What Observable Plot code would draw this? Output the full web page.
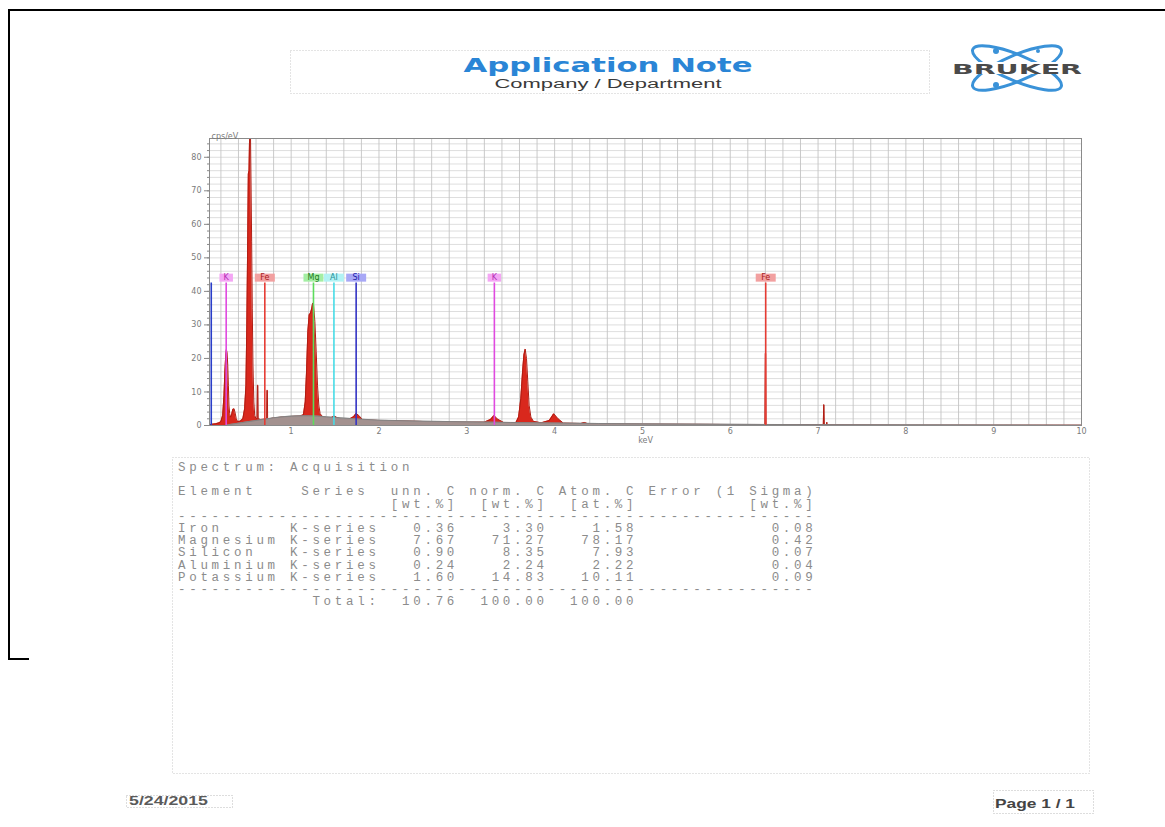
<!DOCTYPE html>
<html><head><meta charset="utf-8">
<script src="https://cdn.jsdelivr.net/npm/d3@7"></script>
<script src="https://cdn.jsdelivr.net/npm/@observablehq/plot@0.6"></script>
<style>
html,body{margin:0;padding:0;background:#fff;}
#page{position:relative;width:1165px;height:827px;overflow:hidden;background:#fff;}
#decor{position:absolute;left:0;top:0;}
#chart{position:absolute;left:160px;top:120px;}
#table{position:absolute;left:178px;top:462px;margin:0;font-family:"Liberation Mono","DejaVu Sans Mono",monospace;font-size:12.5px;letter-spacing:3.7px;line-height:12.2px;color:#8c8c8c;white-space:pre;}
</style></head>
<body><div id="page">
<svg id="decor" width="1165" height="827">
  <path d="M1165,10 H9 V659 H29" fill="none" stroke="#000" stroke-width="2"/>
  <rect x="290.5" y="50.5" width="639" height="43" fill="none" stroke="#c8c8c8" stroke-dasharray="1,2"/>
  <text x="608" y="72" text-anchor="middle" font-family="DejaVu Sans" font-weight="bold" font-size="19" fill="#2a85d6" textLength="289" lengthAdjust="spacingAndGlyphs">Application Note</text>
  <text x="608" y="88" text-anchor="middle" font-family="Liberation Sans" font-size="12.5" fill="#3a3a3a" textLength="227" lengthAdjust="spacingAndGlyphs">Company / Department</text>
  <g transform="translate(1017,68)">
    <ellipse rx="48" ry="13" transform="rotate(23)" fill="none" stroke="#3a92d8" stroke-width="3"/>
    <ellipse rx="48" ry="13" transform="rotate(-23)" fill="none" stroke="#3a92d8" stroke-width="3"/>
    <circle cx="-21" cy="-17" r="3" fill="#3a92d8"/>
    <circle cx="-21" cy="17" r="3" fill="#3a92d8"/>
    <circle cx="21" cy="-17" r="2" fill="#3a92d8"/>
    <rect x="-66" y="-6" width="132" height="12" fill="#fff"/>
    <text x="0" y="5.5" text-anchor="middle" font-family="DejaVu Sans" font-weight="bold" font-size="14" fill="#4a4a4a" textLength="130" lengthAdjust="spacingAndGlyphs">BRUKER</text>
  </g>
  <rect x="172.5" y="457.5" width="917" height="316" fill="none" stroke="#c8c8c8" stroke-dasharray="1,2"/>
  <rect x="126.5" y="795.5" width="106" height="12" fill="none" stroke="#bbb" stroke-dasharray="1,2"/>
  <text x="129" y="805" font-family="Liberation Sans" font-weight="bold" font-size="12" fill="#5a5a5a" textLength="79" lengthAdjust="spacingAndGlyphs">5/24/2015</text>
  <rect x="993.5" y="790.5" width="100" height="23" fill="none" stroke="#bbb" stroke-dasharray="1,2"/>
  <text x="995" y="808" font-family="Liberation Sans" font-weight="bold" font-size="12" fill="#444" textLength="80" lengthAdjust="spacingAndGlyphs">Page 1 / 1</text>
</svg>
<div id="chart"></div>
<pre id="table"></pre>
</div>
<script>
// ---- spectrum (keV, cps/eV) ----
const energy = [0.07,0.08,0.10,0.14,0.18,0.20,0.22,0.235,0.245,0.255,0.262,0.27,0.278,0.285,0.292,0.30,0.31,0.32,0.335,0.35,0.36,0.375,0.39,0.42,0.45,0.47,0.485,0.495,0.505,0.512,0.52,0.525,0.53,0.537,0.543,0.55,0.557,0.565,0.575,0.585,0.60,0.612,0.616,0.621,0.625,0.65,0.70,0.722,0.725,0.729,0.732,0.80,0.90,1.00,1.10,1.14,1.16,1.175,1.19,1.205,1.22,1.235,1.245,1.255,1.27,1.285,1.30,1.315,1.33,1.36,1.42,1.46,1.49,1.52,1.58,1.66,1.71,1.74,1.77,1.81,1.9,2.0,2.5,3.0,3.2,3.27,3.31,3.35,3.42,3.56,3.59,3.615,3.635,3.65,3.665,3.68,3.695,3.71,3.73,3.76,3.85,3.94,3.99,4.04,4.10,4.30,4.34,4.38,5.0,6.0,6.396,6.40,6.404,6.408,7.0,7.06,7.064,7.068,7.072,7.095,7.10,7.105,8.0,10.0];
const counts = [0,0.3,0.4,0.5,0.8,1.2,3,9,16,21,22.6,21.8,18,12,6,3.5,2.5,3,4.8,5,4,2,1.2,1.3,2,5,12,30,55,75,76,84,86.5,86.5,72,55,35,18,7,3,2.0,2.0,12,12,2.0,1.8,1.9,1.9,10.5,10.5,1.9,2.2,2.5,2.7,2.8,3.2,7,16,28,33,33.5,35,36.5,36,31,22,12,6,3.5,2.6,2.3,2.4,2.8,2.4,1.9,1.9,2.6,3.6,3.0,1.8,1.6,1.5,1.2,1.0,1.0,1.8,3.0,1.9,0.9,0.9,2.5,8,16,21,22.8,20,13,6,2.5,1.2,0.8,1.5,3.5,2,0.7,0.6,0.9,0.5,0.4,0.3,0.3,21.5,21.5,0.3,0.2,0.2,6.2,6.2,0.2,0.2,1.0,0.2,0.1,0.05];
// ---- background (bremsstrahlung) ----
const bgEnergy = [0.25,0.30,0.40,0.50,0.60,0.70,0.80,0.90,1.00,1.10,1.20,1.30,1.40,1.50,1.60,1.80,2.00,2.50,3.00,3.50,4.00,4.50,5.00,6.00,7.00,8.00,10.0];
const bgCounts = [0,0.3,0.7,1.1,1.5,1.9,2.3,2.6,2.8,2.9,2.9,2.8,2.6,2.4,2.2,1.9,1.6,1.3,1.1,0.9,0.75,0.6,0.5,0.35,0.25,0.2,0.1];
// ---- element line markers ----
const markerLabels = ["", "K", "Fe", "Mg", "Al", "Si", "K", "Fe"];
const markerEnergies = [0.09, 0.26, 0.70, 1.254, 1.487, 1.740, 3.314, 6.404];
const markerColors = ["#2a3ec8", "#e04ae0", "#e63c34", "#5cdc5c", "#46dce6", "#3434c4", "#e04ae0", "#e63c34"];
const markerBoxColors = ["", "#f4a6f4", "#f2a0a0", "#a4eea4", "#b2f2f4", "#a8a8f6", "#f4a6f4", "#f2a0a0"];
const markerTextColors = ["", "#b430b4", "#a81c1c", "#1e7a1e", "#1e8e96", "#2020a8", "#b430b4", "#a81c1c"];
const markerHeight = 42.5;
const labelLevel = 44.1;
// ---- axes ----
const xTicks = [1,2,3,4,5,6,7,8,9,10];
const yTicks = [0,10,20,30,40,50,60,70,80];
const xGrid = d3.range(1, 50).map(i => i * 0.2);
const yGrid = d3.range(1, 43).map(i => i * 2);
const yMinor = d3.range(0, 43).map(i => i * 2);
// ---- quantification table ----
const elements = ["Iron","Magnesium","Silicon","Aluminium","Potassium"];
const seriesNames = ["K-series","K-series","K-series","K-series","K-series"];
const unnC = [0.36,7.67,0.90,0.24,1.60];
const normC = [3.30,71.27,8.35,2.24,14.83];
const atomC = [1.58,78.17,7.93,2.22,10.11];
const errorSigma = [0.08,0.42,0.07,0.04,0.09];
const totals = [10.76,100.00,100.00];

const spectrum = energy.map((e,i)=>({e, c: counts[i]}));
const background = bgEnergy.map((e,i)=>({e, c: bgCounts[i]}));
const markers = markerEnergies.map((e,i)=>({e, label: markerLabels[i], color: markerColors[i], box: markerBoxColors[i], tc: markerTextColors[i]}));
const boxSym = w => ({draw(ctx){ ctx.rect(-w/2, -4, w, 8); }});

const labelMarks = markers.filter(m => m.label).flatMap(m => [
  Plot.dot([m], {x: "e", y: () => labelLevel, symbol: boxSym(7 + 6.5*m.label.length), fill: m.box, stroke: null}),
  Plot.text([m], {x: "e", y: () => labelLevel, text: "label", fill: m.tc, fontSize: 8, fontFamily: "DejaVu Sans"})
]);

const chart = Plot.plot({
  width: 941, height: 325,
  marginLeft: 49, marginTop: 18, marginRight: 20, marginBottom: 20,
  x: {domain: [0.07, 10]},
  y: {domain: [0, 85.6]},
  style: {fontFamily: "DejaVu Sans", fontSize: "8px", color: "#7a7a7a", background: "transparent", overflow: "visible"},
  marks: [
    Plot.ruleY(yGrid, {stroke: "#d6d6d6", strokeWidth: 0.8}),
    Plot.ruleX(xGrid, {stroke: "#c4c4c4", strokeWidth: 0.9}),
    Plot.areaY(spectrum, {x: "e", y: "c", fill: "#d9281d", clip: true}),
    Plot.lineY(spectrum, {x: "e", y: "c", stroke: "#b01c12", strokeWidth: 1, clip: true}),
    Plot.areaY(background, {x: "e", y: "c", fill: "#9c9c9c", fillOpacity: 0.9}),
    Plot.lineY(background, {x: "e", y: "c", stroke: "#7c7c7c", strokeWidth: 0.8}),
    Plot.ruleX(markers, {x: "e", y1: 0, y2: markerHeight, stroke: "color", strokeWidth: 1.6}),
    ...labelMarks,
    Plot.frame({stroke: "#8a8a8a"}),
    Plot.axisY({ticks: yMinor, tickSize: 2, tickFormat: () => "", label: null, stroke: "#8a8a8a"}),
    Plot.axisY({ticks: yTicks, tickSize: 5, tickPadding: 3, label: null, stroke: "#8a8a8a"}),
    Plot.axisX({ticks: xTicks, tickSize: 0, tickPadding: 3, label: "keV", labelAnchor: "center", labelArrow: "none", labelOffset: 17}),
    Plot.text(["cps/eV"], {frameAnchor: "top-left", dx: 2, dy: -5, textAnchor: "start", fill: "#7a7a7a", fontSize: 8})
  ]
});
document.getElementById("chart").appendChild(chart);

// table text (fixed-width report)
const f2 = v => v.toFixed(2);
const dash = "-".repeat(57);
const lines = [
  "Spectrum: Acquisition",
  "",
  "Element    Series  unn. C norm. C Atom. C Error (1 Sigma)",
  " ".repeat(19) + "[wt.%]" + "  [wt.%]" + "  [at.%]" + " ".repeat(10) + "[wt.%]",
  dash,
  ...elements.map((el,i) => el.padEnd(10) + seriesNames[i] + f2(unnC[i]).padStart(7) + f2(normC[i]).padStart(8) + f2(atomC[i]).padStart(8) + f2(errorSigma[i]).padStart(16)),
  dash,
  " ".repeat(12) + "Total:" + f2(totals[0]).padStart(7) + f2(totals[1]).padStart(8) + f2(totals[2]).padStart(8)
];
document.getElementById("table").textContent = lines.join("\n");
</script>
</body></html>
